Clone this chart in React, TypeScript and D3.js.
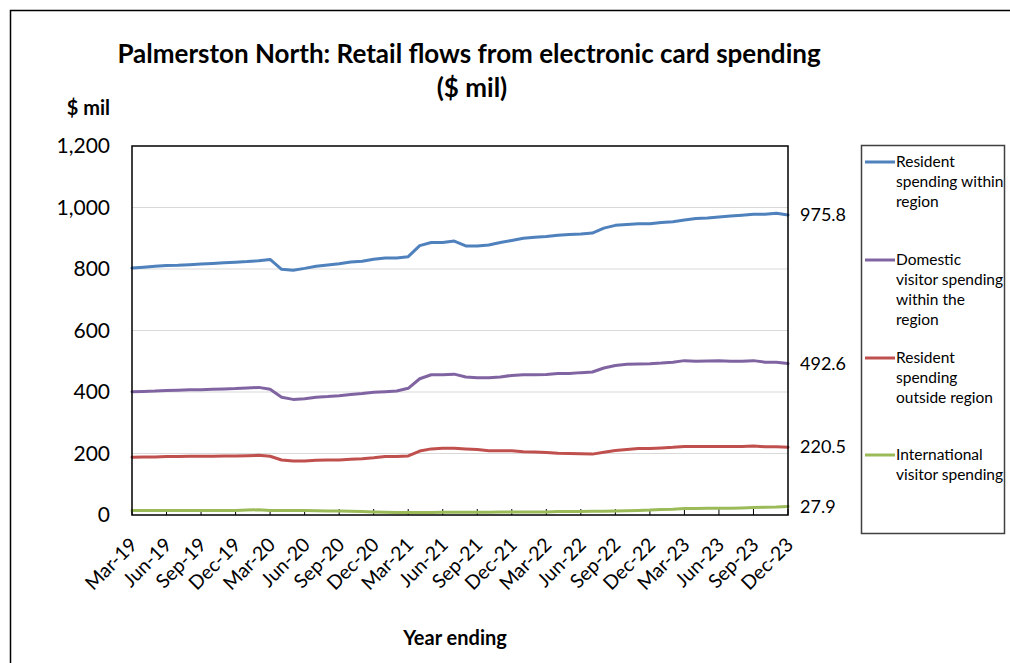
import React from "react";
import * as d3 from "d3";

// Monthly periods (year ending), Mar-19 through Dec-23
const months: string[] = (() => {
  const names = ["Jan", "Feb", "Mar", "Apr", "May", "Jun", "Jul", "Aug", "Sep", "Oct", "Nov", "Dec"];
  const out: string[] = [];
  for (let y = 2019; y <= 2023; y++) {
    for (let m = 0; m < 12; m++) {
      if (y === 2019 && m < 2) continue;
      out.push(`${names[m]}-${String(y).slice(2)}`);
    }
  }
  return out;
})();

const residentWithin = [
  803, 806, 809, 811, 812, 814, 816, 818, 820, 822, 824, 827, 831, 799, 796, 802, 809, 813, 817, 823,
  825, 832, 836, 836, 840, 876, 886, 886, 891, 875, 875, 878, 886, 893, 900, 903, 906, 910, 912, 914,
  917, 933, 942, 945, 947, 947, 951, 954, 959, 964, 966, 969, 972, 975, 978, 978, 981, 975.8,
];
const domesticVisitor = [
  401, 402, 403, 405, 406, 407, 407, 409, 410, 411, 413, 415, 409, 383, 376, 378, 383, 385, 388, 392,
  395, 399, 401, 403, 412, 443, 456, 456, 458, 449, 446, 446, 449, 454, 456, 456, 457, 460, 460, 463,
  465, 478, 486, 490, 491, 492, 494, 497, 502, 500, 501, 502, 500, 500, 502, 497, 497, 492.6,
];
const residentOutside = [
  188, 189, 189, 190, 190, 191, 191, 191, 192, 192, 193, 194, 191, 179, 176, 176, 178, 179, 179, 181,
  183, 186, 190, 190, 192, 208, 215, 217, 217, 215, 213, 209, 209, 209, 206, 205, 203, 201, 200, 199,
  198, 204, 210, 213, 216, 216, 218, 220, 223, 223, 223, 223, 223, 223, 224, 222, 222, 220.5,
];
const internationalVisitor = [
  15, 15, 15, 15, 15, 15, 15, 15, 15, 15, 16, 17, 15, 15, 15, 15, 14, 13, 13, 12,
  11, 10, 9, 8, 8, 8, 8, 9, 9, 9, 9, 9, 10, 10, 10, 10, 10, 11, 11, 11,
  12, 12, 13, 14, 15, 16, 18, 19, 21, 21, 22, 22, 22, 23, 24, 25, 26, 27.9,
];

const yTicks = [0, 200, 400, 600, 800, 1000, 1200];

const seriesNames = [
  ["Resident", "spending within", "region"],
  ["Domestic", "visitor spending", "within the", "region"],
  ["Resident", "spending", "outside region"],
  ["International", "visitor spending"],
];
const seriesValues = [residentWithin, domesticVisitor, residentOutside, internationalVisitor];
const seriesColors = ["#4F81BD", "#8064A2", "#C0504D", "#9BBB59"];
const legendLineY = [162, 260, 358, 455];

const W = 1010;
const H = 663;
const plot = { left: 132, right: 788, top: 146, bottom: 515 };
const font = "Lato, 'Open Sans', sans-serif";

export default function App() {
  const x = d3
    .scalePoint<number>()
    .domain(d3.range(months.length))
    .range([plot.left, plot.right]);
  const y = d3.scaleLinear().domain([0, 1200]).range([plot.bottom, plot.top]);
  const line = d3
    .line<number>()
    .x((_, i) => x(i) as number)
    .y((d) => y(d));
  const fmt = d3.format(",");
  const quarterIdx = d3.range(0, months.length, 3);

  return (
    <svg
      width={W}
      height={H}
      style={{ position: "absolute", left: 0, top: 0, background: "#fff" }}
      fontFamily={font}
    >
      {/* outer chart border (top and left edges fall inside the page) */}
      <path d={`M10.5,${H}V10.5H${W}`} fill="none" stroke="#000" strokeWidth={1.5} />

      <text x={469} y={63} textAnchor="middle" fontSize={26} fontWeight={700} fill="#000">
        Palmerston North: Retail flows from electronic card spending
      </text>
      <text x={472} y={97} textAnchor="middle" fontSize={26} fontWeight={700} fill="#000">
        ($ mil)
      </text>
      <text x={110} y={115} textAnchor="end" fontSize={20} fontWeight={700} fill="#000">
        $ mil
      </text>

      {/* gridlines */}
      {yTicks.slice(1, -1).map((t) => (
        <line key={t} x1={plot.left} x2={plot.right} y1={y(t)} y2={y(t)} stroke="#D9D9D9" strokeWidth={1.2} />
      ))}

      {/* y tick labels */}
      {yTicks.map((t) => (
        <text key={t} x={110} y={y(t)} dy="0.35em" textAnchor="end" fontSize={21} fill="#000">
          {fmt(t)}
        </text>
      ))}

      {/* x ticks (inside) */}
      {quarterIdx.map((i) => (
        <line
          key={i}
          x1={x(i)}
          x2={x(i)}
          y1={plot.bottom}
          y2={plot.bottom - 6}
          stroke="#000"
          strokeWidth={1}
        />
      ))}

      {/* series */}
      {seriesValues.map((vals, k) => (
        <path
          key={k}
          d={line(vals) ?? ""}
          fill="none"
          stroke={seriesColors[k]}
          strokeWidth={3}
          strokeLinejoin="round"
          strokeLinecap="round"
        />
      ))}

      {/* plot frame */}
      <rect
        x={plot.left}
        y={plot.top}
        width={plot.right - plot.left}
        height={plot.bottom - plot.top}
        fill="none"
        stroke="#000"
        strokeWidth={1.5}
      />

      {/* x labels */}
      {quarterIdx.map((i) => (
        <text
          key={i}
          transform={`translate(${(x(i) as number) + 6.5},${plot.bottom + 31}) rotate(-45)`}
          textAnchor="end"
          fontSize={19.5}
          fill="#000"
        >
          {months[i]}
        </text>
      ))}

      {/* end-of-series value labels */}
      {seriesValues.map((vals, k) => (
        <text key={k} x={800} y={y(vals[vals.length - 1])} dy="0.35em" fontSize={18} fill="#000">
          {vals[vals.length - 1].toFixed(1)}
        </text>
      ))}

      <text x={455} y={645} textAnchor="middle" fontSize={20} fontWeight={700} fill="#000">
        Year ending
      </text>

      {/* legend */}
      <rect x={861.5} y={145.5} width={143} height={388} fill="#fff" stroke="#404040" strokeWidth={1.5} />
      {seriesNames.map((lines, k) => (
        <g key={k}>
          <line
            x1={865}
            x2={895}
            y1={legendLineY[k]}
            y2={legendLineY[k]}
            stroke={seriesColors[k]}
            strokeWidth={3}
          />
          {lines.map((s, j) => (
            <text key={j} x={896} y={legendLineY[k] + 5 + j * 20} fontSize={15.5} fill="#000">
              {s}
            </text>
          ))}
        </g>
      ))}
    </svg>
  );
}
